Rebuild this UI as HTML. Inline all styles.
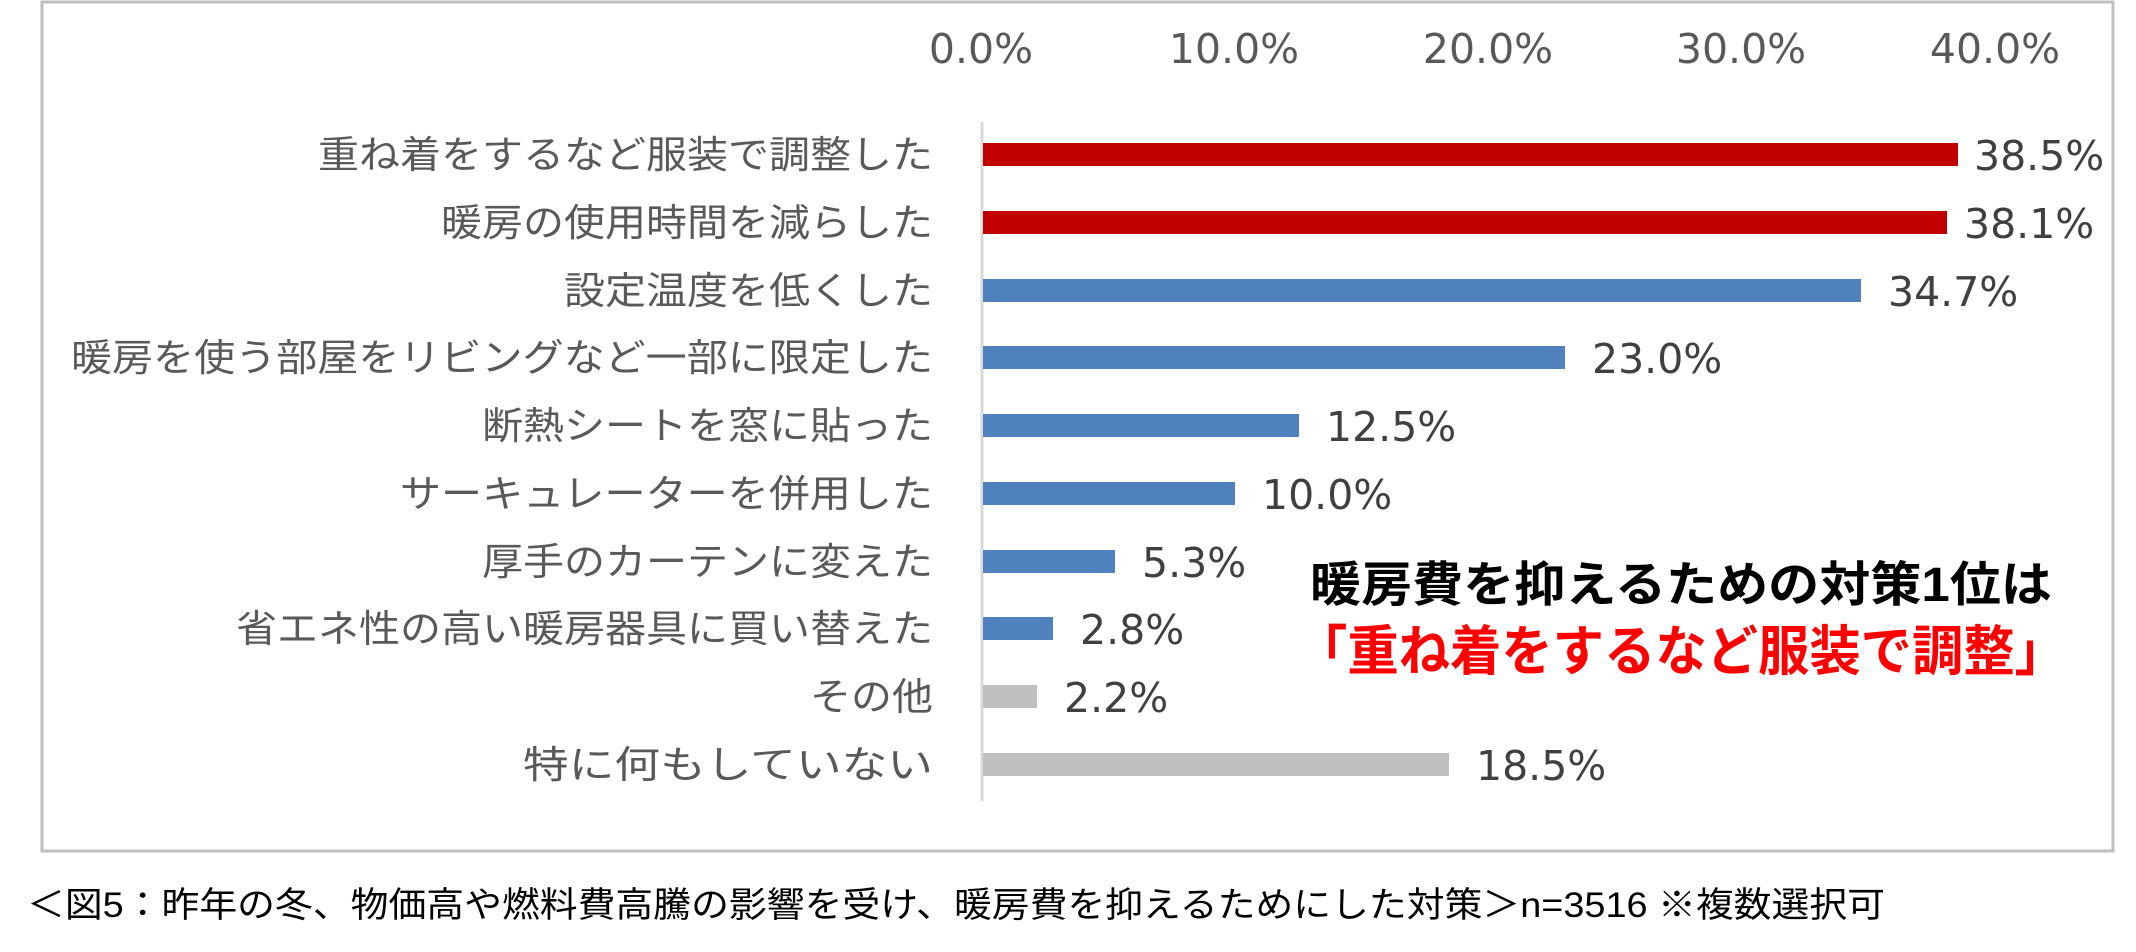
<!DOCTYPE html>
<html><head><meta charset="utf-8"><style>
html,body{margin:0;padding:0;background:#fff;width:2136px;height:952px;overflow:hidden}
svg{display:block}
.cat{font-family:"Liberation Sans","Noto Sans CJK JP",sans-serif;font-size:38px;fill:#595959}
.val{font-family:"DejaVu Sans","Liberation Sans",sans-serif;font-size:41px;fill:#404040}
.tick{font-family:"DejaVu Sans","Liberation Sans",sans-serif;font-size:41px;fill:#595959}
</style></head><body>
<svg width="2136" height="952" viewBox="0 0 2136 952" xmlns="http://www.w3.org/2000/svg">
<rect x="42" y="2" width="2071" height="849" fill="#fff" stroke="#BFBFBF" stroke-width="3"/>
<g class="tick" text-anchor="middle">
<text x="981" y="63">0.0%</text>
<text x="1234" y="63">10.0%</text>
<text x="1488" y="63">20.0%</text>
<text x="1741" y="63">30.0%</text>
<text x="1995" y="63">40.0%</text>
</g>
<line x1="982" y1="122" x2="982" y2="801" stroke="#D9D9D9" stroke-width="3"/>
<g>
<rect x="983" y="143" width="975" height="23" fill="#C00000"/>
<rect x="983" y="211" width="964" height="23" fill="#C00000"/>
<rect x="983" y="279" width="878" height="23" fill="#4F81BD"/>
<rect x="983" y="346" width="582" height="23" fill="#4F81BD"/>
<rect x="983" y="414" width="316" height="23" fill="#4F81BD"/>
<rect x="983" y="482" width="252" height="23" fill="#4F81BD"/>
<rect x="983" y="550" width="132" height="23" fill="#4F81BD"/>
<rect x="983" y="617" width="70" height="23" fill="#4F81BD"/>
<rect x="983" y="685" width="54" height="23" fill="#BFBFBF"/>
<rect x="983" y="753" width="466" height="23" fill="#BFBFBF"/>
</g>
<g class="val">
<text x="1974" y="170">38.5%</text>
<text x="1964" y="238">38.1%</text>
<text x="1888" y="306">34.7%</text>
<text x="1592" y="373">23.0%</text>
<text x="1326" y="441">12.5%</text>
<text x="1262" y="509">10.0%</text>
<text x="1142" y="577">5.3%</text>
<text x="1080" y="644">2.8%</text>
<text x="1064" y="712">2.2%</text>
<text x="1476" y="780">18.5%</text>
</g>
<g class="cat" text-anchor="end">
<text x="933" y="168" textLength="615" lengthAdjust="spacingAndGlyphs">重ね着をするなど服装で調整した</text>
<text x="933" y="236" textLength="492" lengthAdjust="spacingAndGlyphs">暖房の使用時間を減らした</text>
<text x="933" y="304" textLength="369" lengthAdjust="spacingAndGlyphs">設定温度を低くした</text>
<text x="933" y="371" textLength="862" lengthAdjust="spacingAndGlyphs">暖房を使う部屋をリビングなど一部に限定した</text>
<text x="933" y="439" textLength="451" lengthAdjust="spacingAndGlyphs">断熱シートを窓に貼った</text>
<text x="933" y="507" textLength="533" lengthAdjust="spacingAndGlyphs">サーキュレーターを併用した</text>
<text x="933" y="575" textLength="451" lengthAdjust="spacingAndGlyphs">厚手のカーテンに変えた</text>
<text x="933" y="642" textLength="697" lengthAdjust="spacingAndGlyphs">省エネ性の高い暖房器具に買い替えた</text>
<text x="933" y="710" textLength="123" lengthAdjust="spacingAndGlyphs">その他</text>
<text x="933" y="778" textLength="410" lengthAdjust="spacingAndGlyphs">特に何もしていない</text>
</g>
<text x="1310" y="601" textLength="742" lengthAdjust="spacingAndGlyphs" style="font-family:'Liberation Sans','Noto Sans CJK JP',sans-serif;font-weight:bold;font-size:48px;fill:#000">暖房費を抑えるための対策1位は</text>
<text x="1296" y="670" textLength="770" lengthAdjust="spacingAndGlyphs" style="font-family:'Liberation Sans','Noto Sans CJK JP',sans-serif;font-weight:bold;font-size:54px;fill:#FF0000">「重ね着をするなど服装で調整」</text>
<text x="27" y="917" textLength="1858" lengthAdjust="spacingAndGlyphs" style="font-family:'Liberation Sans','Noto Sans CJK JP',sans-serif;font-size:35px;fill:#000">＜図5：昨年の冬、物価高や燃料費高騰の影響を受け、暖房費を抑えるためにした対策＞n=3516 ※複数選択可</text>
</svg>
</body></html>
